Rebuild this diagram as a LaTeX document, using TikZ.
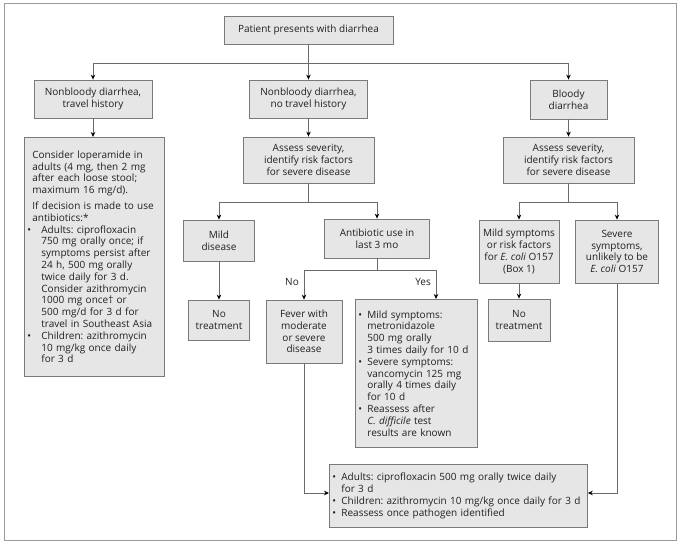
\documentclass[tikz,border=0pt]{standalone}
\usepackage{fontspec}
\setmainfont{Open Sans}
\usetikzlibrary{arrows.meta}
\definecolor{boxfill}{HTML}{E6E6E6}
\definecolor{boxline}{HTML}{7A7A7A}
\definecolor{frameline}{HTML}{9A9A9A}
\definecolor{txt}{HTML}{231F20}
\definecolor{connc}{HTML}{6A6A6A}
\newcommand{\bulA}{\makebox[14pt][l]{\textbullet}}
\newcommand{\indA}{\hspace*{14pt}}
\newcommand{\bulB}{\makebox[9pt][l]{\textbullet}}
\newcommand{\indB}{\hspace*{9pt}}
\frenchspacing
\begin{document}
\frenchspacing
\begin{tikzpicture}[x=1pt,y=-1pt,
  box/.style={draw=boxline, fill=boxfill, line width=0.8pt, inner sep=0pt, align=center,
              font=\fontsize{10}{11.8}\selectfont\frenchspacing, text=txt},
  conn/.style={draw=connc, line width=0.8pt},
  arr/.style={conn, -{Stealth[length=5pt,width=4.5pt,color=black]}},
  lab/.style={font=\fontsize{10}{11.8}\selectfont, text=txt, inner sep=0pt}]
\useasboundingbox (0,0) rectangle (680,545);
\draw[frameline, line width=1pt] (4,4) rectangle (676,540);

\node[box, minimum width=169, minimum height=28] (top) at (308.5,30) {Patient presents with diarrhea};
\node[box, minimum width=118, minimum height=38] (travel) at (93,99) {Nonbloody diarrhea,\\travel history};
\node[box, minimum width=118, minimum height=38] (notravel) at (308.5,99) {Nonbloody diarrhea,\\no travel history};
\node[box, minimum width=77, minimum height=39] (bloody) at (568.5,99.5) {Bloody\\diarrhea};

\node[box, anchor=north west, align=left, text width=134pt, inner xsep=3pt, minimum height=239] (left) at (24,137) {%
\hspace*{5pt}Consider loperamide in\\
\hspace*{5pt}adults (4 mg, then 2 mg\\
\hspace*{5pt}after each loose stool;\\
\hspace*{5pt}maximum 16 mg/d).\\[4pt]
\hspace*{5pt}If decision is made to use\\
\hspace*{5pt}antibiotics:*\\
\bulA Adults: ciprofloxacin\\
\indA 750 mg orally once; if\\
\indA symptoms persist after\\
\indA 24 h, 500 mg orally\\
\indA twice daily for 3 d.\\
\indA Consider azithromycin\\
\indA 1000 mg once† or\\
\indA 500 mg/d for 3 d for\\
\indA travel in Southeast Asia\\
\bulA Children: azithromycin\\
\indA 10 mg/kg once daily\\
\indA for 3 d};

\node[box, minimum width=131, minimum height=46] (assessM) at (308.5,160) {Assess severity,\\identify risk factors\\for severe disease};
\node[box, minimum width=131, minimum height=46] (assessR) at (568.5,160) {Assess severity,\\identify risk factors\\for severe disease};

\node[box, minimum width=71, minimum height=41] (mild) at (219,240.5) {Mild\\disease};
\node[box, minimum width=105, minimum height=39] (antib) at (377,238.5) {Antibiotic use in\\last 3 mo};
\node[box, minimum width=80, minimum height=63] (mildsym) at (519,251.5) {Mild symptoms\\or risk factors\\for \textit{E. coli} O157\\(Box 1)};
\node[box, minimum width=83, minimum height=63] (severe) at (617,251.5) {Severe\\symptoms,\\unlikely to be\\\textit{E. coli} O157};

\node[box, minimum width=61, minimum height=40] (notreatL) at (219,320) {No\\treatment};
\node[box, minimum width=76, minimum height=63] (fever) at (304,331.5) {Fever with\\moderate\\or severe\\disease};
\node[box, anchor=north west, align=left, text width=116pt, inner xsep=3pt, minimum height=148] (cdiff) at (355,299) {%
\bulB Mild symptoms:\\
\indB metronidazole\\
\indB 500 mg orally\\
\indB 3 times daily for 10 d\\
\bulB Severe symptoms:\\
\indB vancomycin 125 mg\\
\indB orally 4 times daily\\
\indB for 10 d\\
\bulB Reassess after\\
\indB \textit{C. difficile} test\\
\indB results are known};
\node[box, minimum width=62, minimum height=42] (notreatR) at (519,320) {No\\treatment};

\node[box, anchor=north west, align=left, text width=252pt, inner xsep=3pt, minimum height=63] (bottom) at (329,464) {%
\bulB Adults: ciprofloxacin 500 mg orally twice daily\\
\indB for 3 d\\
\bulB Children: azithromycin 10 mg/kg once daily for 3 d\\
\bulB Reassess once pathogen identified};

% connectors
\coordinate (j1) at (308.5,63);
\draw[arr] (top.south) -- (notravel.north);
\draw[arr] (j1) -| (travel.north);
\draw[arr] (j1) -| (bloody.north);
\draw[arr] (travel.south) -- (travel.south |- left.north);
\draw[arr] (notravel.south) -- (assessM.north);
\draw[arr] (bloody.south) -- (assessR.north);

\coordinate (j2) at (308.5,202);
\draw[conn] (assessM.south) -- (j2);
\draw[arr] (j2) -| (mild.north);
\draw[arr] (j2) -| (antib.north);
\draw[arr] (mild.south) -- (notreatL.north);

\coordinate (j3) at (377,270);
\coordinate (cdx) at (436,0);
\draw[conn] (antib.south) -- (j3);
\draw[arr] (j3) -| (fever.north);
\draw[arr] (j3) -| (cdiff.north -| cdx);
\node[lab, anchor=east] (nolab) at (299,282) {No};
\node[lab, anchor=east] (yeslab) at (431,282) {Yes};

\coordinate (by) at (0,493);
\draw[arr] (fever.south) |- (bottom.west |- by);

\coordinate (j4) at (568.5,202);
\draw[conn] (assessR.south) -- (j4);
\draw[arr] (j4) -| (mildsym.north);
\draw[arr] (j4) -| (severe.north);
\draw[arr] (mildsym.south) -- (notreatR.north);
\draw[arr] (severe.south) |- (bottom.east |- by);
\end{tikzpicture}
\end{document}
